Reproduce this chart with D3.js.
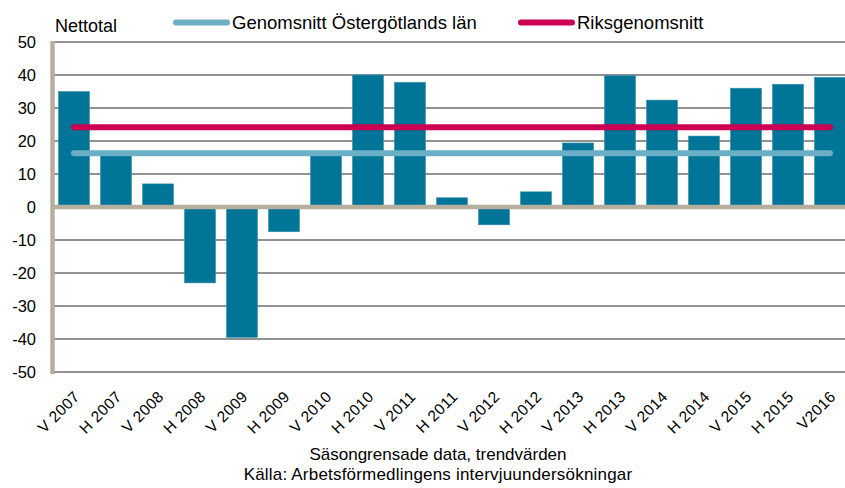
<!DOCTYPE html>
<html>
<head>
<meta charset="utf-8">
<script src="https://cdn.jsdelivr.net/npm/d3@7"></script>
<style>
  body { margin: 0; background: #fff; }
  text { font-family: "Liberation Sans", Arial, sans-serif; fill: #000; }
</style>
</head>
<body>
<div id="chart"></div>
<script>
const width = 845,
      height = 488;

const categories = ["V 2007", "H 2007", "V 2008", "H 2008", "V 2009", "H 2009", "V 2010", "H 2010",
  "V 2011", "H 2011", "V 2012", "H 2012", "V 2013", "H 2013", "V 2014", "H 2014", "V 2015", "H 2015", "V2016"];
const nettotal = [35, 16, 7, -23, -39.5, -7.5, 16.5, 40, 37.8, 2.8, -5.4, 4.6, 19.4, 39.8, 32.4, 21.5, 36, 37.2, 39.3];
const ostergotland = 16.3;
const riket = 24.2;
const yTicks = [50, 40, 30, 20, 10, 0, -10, -20, -30, -40, -50];

const barColor = "#007597",
      ostColor = "#6aafc6",
      rikColor = "#cc0052",
      axisColor = "#b8ae9e";

const svg = d3.select("#chart")
  .append("svg")
  .attr("width", width)
  .attr("height", height);

const x = d3.scaleBand()
  .domain(categories)
  .range([53, 851])
  .paddingInner(0.26)
  .paddingOuter(0.13);

const y = d3.scaleLinear()
  .domain([-50, 50])
  .range([372, 42]);

// gridlines
svg.append("g")
  .selectAll("line")
  .data(yTicks.filter(d => d !== 0))
  .enter()
  .append("line")
  .attr("x1", 53)
  .attr("x2", width)
  .attr("y1", d => y(d))
  .attr("y2", d => y(d))
  .style("stroke", "#6e6e6e")
  .style("stroke-width", 1.5);

// tick labels
svg.append("g")
  .selectAll("text")
  .data(yTicks)
  .enter()
  .append("text")
  .attr("x", 36)
  .attr("y", d => y(d))
  .attr("dy", "0.35em")
  .attr("text-anchor", "end")
  .style("font-size", "16.5px")
  .text(d => d);

// bars
svg.append("g")
  .selectAll("rect")
  .data(nettotal)
  .enter()
  .append("rect")
  .attr("x", (d, i) => x(categories[i]))
  .attr("width", x.bandwidth())
  .attr("y", d => y(Math.max(0, d)))
  .attr("height", d => Math.abs(y(d) - y(0)))
  .style("fill", barColor)
  .style("stroke", "#3b93ad")
  .style("stroke-width", 0.6);

// zero line and left axis
svg.append("line")
  .attr("x1", 52)
  .attr("x2", width)
  .attr("y1", y(0))
  .attr("y2", y(0))
  .style("stroke", axisColor)
  .style("stroke-width", 4.5);

svg.append("line")
  .attr("x1", 52.5)
  .attr("x2", 52.5)
  .attr("y1", y(50) - 1)
  .attr("y2", y(-50) + 2)
  .style("stroke", axisColor)
  .style("stroke-width", 4.5);

// average lines
const first = x(categories[0]) + x.bandwidth() / 2,
      last = x(categories[categories.length - 1]) + x.bandwidth() / 2;

[[riket, rikColor], [ostergotland, ostColor]].forEach(([v, c]) => {
  svg.append("line")
    .attr("x1", first)
    .attr("x2", last)
    .attr("y1", y(v))
    .attr("y2", y(v))
    .style("stroke", c)
    .style("stroke-width", 6)
    .style("stroke-linecap", "round");
});

// x labels
svg.append("g")
  .selectAll("text")
  .data(categories)
  .enter()
  .append("text")
  .attr("transform", d => `translate(${x(d) + x.bandwidth() / 2 - 1}, 390) rotate(-45)`)
  .attr("text-anchor", "end")
  .attr("dy", "0.7em")
  .style("font-size", "15.5px")
  .style("letter-spacing", "0.4px")
  .text(d => d);

// title and legend
svg.append("text")
  .attr("x", 55)
  .attr("y", 31.5)
  .style("font-size", "18px")
  .text("Nettotal");

const legend = [
  {label: "Genomsnitt Östergötlands län", color: ostColor, x: 176},
  {label: "Riksgenomsnitt", color: rikColor, x: 521}
];

legend.forEach(l => {
  svg.append("line")
    .attr("x1", l.x)
    .attr("x2", l.x + 51)
    .attr("y1", 22.5)
    .attr("y2", 22.5)
    .style("stroke", l.color)
    .style("stroke-width", 6)
    .style("stroke-linecap", "round");
  svg.append("text")
    .attr("x", l.x + 56)
    .attr("y", 28.5)
    .style("font-size", "18.5px")
    .text(l.label);
});

// footnotes
svg.append("text")
  .attr("x", 438)
  .attr("y", 460)
  .attr("text-anchor", "middle")
  .style("font-size", "17px")
  .text("Säsongrensade data, trendvärden");

svg.append("text")
  .attr("x", 438)
  .attr("y", 479.5)
  .attr("text-anchor", "middle")
  .style("font-size", "17px")
  .style("letter-spacing", "0.2px")
  .text("Källa: Arbetsförmedlingens intervjuundersökningar");
</script>
</body>
</html>
